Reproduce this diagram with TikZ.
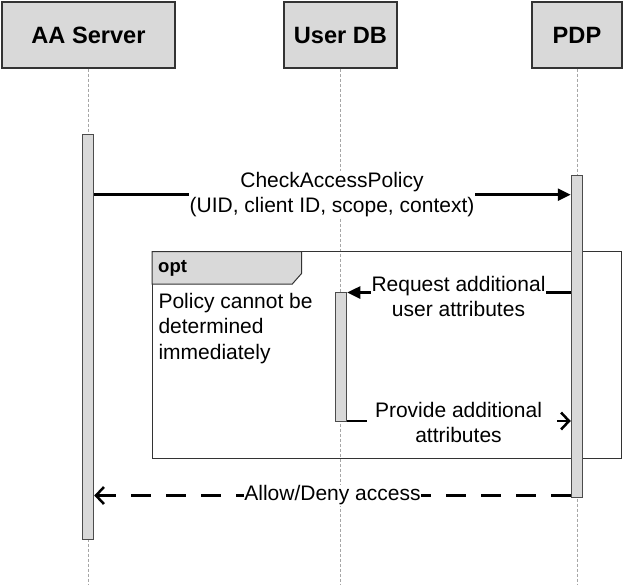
\documentclass[tikz,border=0pt]{standalone}
\usepackage{fontspec}
\setmainfont{Liberation Sans}
\usetikzlibrary{arrows.meta}
\definecolor{boxgray}{HTML}{D9D9D9}
\definecolor{linegray}{HTML}{A6A6A6}
\tikzset{
  head/.style={draw=black!80, line width=1.2pt, fill=boxgray, minimum height=66pt, inner sep=0pt,
    font=\fontsize{23.6}{27}\selectfont\bfseries},
  lifeline/.style={draw=linegray, line width=0.7pt, dash pattern=on 3pt off 2pt},
  actbar/.style={draw=black!70, line width=1pt, fill=boxgray, minimum width=11.5pt, inner sep=0pt},
  msg/.style={line width=2.5pt, -{Triangle[length=13pt,width=12pt]}},
  reply/.style={line width=2.5pt, dash pattern=on 20pt off 15pt, -{Straight Barb[length=8pt,width=17pt,line width=2.5pt]}},
  lbl/.style={fill=white, inner sep=1pt, align=center, font=\fontsize{21}{25}\selectfont},
  frametext/.style={inner sep=0pt, align=left, font=\fontsize{21}{25.5}\selectfont},
}
\begin{document}
\begin{tikzpicture}[x=1pt,y=-1pt]
\useasboundingbox (0,0) rectangle (624,584);
% headers
\node[head, minimum width=173pt] (aa) at (88.5,35) {AA Server};
\node[head, minimum width=113pt] (db) at (340.5,35) {User DB};
\node[head, minimum width=90pt] (pdp) at (577,35) {PDP};
% lifelines
\coordinate (bot) at (0,584);
\draw[lifeline] (aa.south) -- (aa.south |- bot);
\draw[lifeline] (db.south) -- (db.south |- bot);
\draw[lifeline] (pdp.south) -- (pdp.south |- bot);
% opt frame
\draw[black!80, line width=1pt] (152,251.7) rectangle (621.7,458.3);
\draw[black!80, line width=1pt, fill=boxgray] (152,251.7) -- (301.7,251.7) -- (301.7,273.3) -- (292.3,284) -- (152,284) -- cycle;
\node[anchor=base west, inner sep=0pt, font=\fontsize{18.5}{20}\selectfont\bfseries] (opt) at (158,272.5) {opt};
\node[frametext, anchor=north west] (cond) at (158.3,293) {Policy cannot be\\determined\\immediately};
% activation bars
\node[actbar, minimum height=405pt] (aaact) at (88,336.8) {};
\node[actbar, minimum height=322pt] (pdpact) at (577,336) {};
\node[actbar, minimum height=129pt] (dbact) at (341,356.6) {};
% messages
\coordinate (y1) at (0,194.7);
\coordinate (y2) at (0,292.5);
\coordinate (y3) at (0,421);
\coordinate (y4) at (0,495.5);
\draw[msg] (aaact.east |- y1) -- (pdpact.west |- y1);
\node[lbl] (l1) at (332,194.5) {CheckAccessPolicy\\(UID, client ID, scope, context)};
\draw[msg] (pdpact.west |- y2) -- (dbact.east |- y2);
\node[lbl] (l2) at (458.5,296) {Request additional\\user attributes};
\draw[reply] (dbact.east |- y3) -- (pdpact.west |- y3);
\node[lbl] (l3) at (458.5,422) {Provide additional\\attributes};
\draw[reply] (pdpact.west |- y4) -- (aaact.east |- y4);
\node[lbl, inner sep=0.5pt] (l4) at (332.5,495.5) {Allow/Deny access};
\end{tikzpicture}
\end{document}
